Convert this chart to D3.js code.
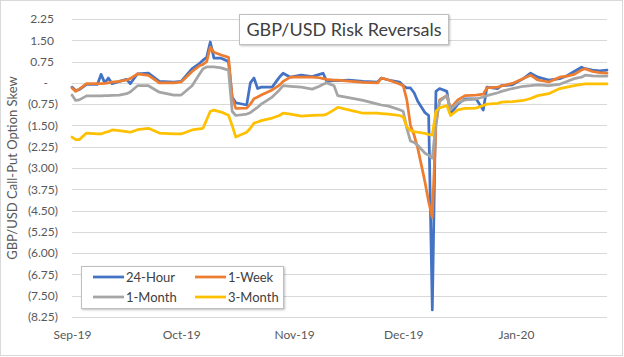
<!DOCTYPE html>
<html><head><meta charset="utf-8">
<script src="https://cdn.jsdelivr.net/npm/d3@7/dist/d3.min.js"></script>
<style>
html,body{margin:0;padding:0;background:#fff;}
svg{display:block;font-family:Lato,"Open Sans",sans-serif;}
</style></head>
<body><svg id="c" width="624" height="357"></svg>
<script>
const dates = ["2019-09-01","2019-09-02","2019-09-03","2019-09-05","2019-09-08","2019-09-09","2019-09-10","2019-09-11","2019-09-12","2019-09-14","2019-09-16","2019-09-17","2019-09-19","2019-09-22","2019-09-25","2019-09-29","2019-10-01","2019-10-04","2019-10-06","2019-10-07","2019-10-08","2019-10-09","2019-10-10","2019-10-12","2019-10-14","2019-10-15","2019-10-16","2019-10-19","2019-10-20","2019-10-21","2019-10-22","2019-10-23","2019-10-26","2019-10-28","2019-10-29","2019-10-31","2019-11-03","2019-11-06","2019-11-08","2019-11-09","2019-11-10","2019-11-12","2019-11-13","2019-11-16","2019-11-20","2019-11-24","2019-11-25","2019-11-27","2019-11-30","2019-12-01","2019-12-02","2019-12-03","2019-12-04","2019-12-05","2019-12-07","2019-12-08","2019-12-09","2019-12-10","2019-12-11","2019-12-13","2019-12-14","2019-12-16","2019-12-18","2019-12-21","2019-12-23","2019-12-24","2019-12-27","2019-12-28","2019-12-31","2020-01-03","2020-01-05","2020-01-07","2020-01-10","2020-01-13","2020-01-15","2020-01-17","2020-01-19","2020-01-20","2020-01-22","2020-01-24","2020-01-26"];

const hour24 = [-0.15,-0.27,-0.24,-0.05,-0.05,0.30,0.0,0.17,-0.03,0.05,0.12,-0.03,0.32,0.34,0.05,0.03,0.05,0.5,0.68,0.8,0.9,1.44,0.87,0.87,0.75,-0.5,-0.7,-0.78,0.0,0.17,-0.2,-0.15,-0.15,0.2,0.34,0.2,0.27,0.22,0.3,0.34,0.05,0.08,0.08,0.1,0.05,0.03,0.17,0.1,0.03,-0.1,-0.18,-0.18,-0.35,-0.65,-1.05,-1.15,-8.0,-0.3,-0.2,-0.3,-1.1,-0.75,-0.56,-0.56,-0.96,-0.15,-0.2,-0.1,-0.07,0.15,0.34,0.2,0.1,0.15,0.25,0.4,0.55,0.5,0.45,0.42,0.45];

const week1 = [-0.18,-0.3,-0.22,-0.03,-0.03,-0.03,-0.02,0.0,0.03,0.05,0.1,0.15,0.32,0.26,0.0,0.0,0.03,0.4,0.6,0.65,0.75,1.26,1.08,0.98,0.9,-0.5,-0.9,-0.89,-0.75,-0.56,-0.5,-0.43,-0.25,-0.08,0.05,0.2,0.2,0.2,0.18,0.15,0.12,0.1,0.1,0.06,0.02,0.0,0.17,0.1,-0.04,-0.1,-0.6,-1.5,-1.84,-2.3,-3.5,-4.2,-4.74,-1.5,-0.6,-0.45,-0.9,-0.6,-0.45,-0.43,-0.4,-0.18,-0.15,-0.11,-0.02,0.15,0.27,0.1,0.03,0.2,0.24,0.3,0.45,0.5,0.4,0.36,0.34];

const month1 = [-0.43,-0.62,-0.6,-0.46,-0.46,-0.46,-0.45,-0.45,-0.44,-0.43,-0.38,-0.32,-0.1,-0.1,-0.33,-0.43,-0.43,-0.1,0.3,0.5,0.56,0.56,0.56,0.53,0.45,-1.0,-1.15,-1.1,-1.05,-0.95,-0.86,-0.75,-0.5,-0.25,-0.1,-0.12,-0.15,-0.22,-0.12,-0.05,0.0,-0.1,-0.45,-0.52,-0.62,-0.75,-0.78,-0.82,-0.95,-1.0,-1.6,-2.05,-2.1,-2.2,-2.48,-2.55,-2.65,-1.4,-0.65,-0.45,-0.95,-0.7,-0.6,-0.57,-0.5,-0.45,-0.35,-0.3,-0.2,-0.12,-0.1,-0.07,-0.1,-0.05,0.05,0.15,0.2,0.27,0.25,0.24,0.24];

const month3 = [-1.91,-2.0,-2.0,-1.77,-1.8,-1.8,-1.75,-1.72,-1.66,-1.68,-1.72,-1.74,-1.65,-1.6,-1.77,-1.8,-1.8,-1.66,-1.62,-1.6,-1.3,-1.0,-0.96,-1.03,-1.14,-1.5,-1.91,-1.74,-1.6,-1.42,-1.38,-1.33,-1.24,-1.15,-1.07,-1.1,-1.17,-1.15,-1.14,-1.14,-1.1,-0.95,-0.86,-0.95,-1.07,-1.07,-1.08,-1.1,-1.15,-1.2,-1.55,-1.68,-1.72,-1.74,-1.78,-1.82,-1.84,-1.0,-0.88,-0.8,-1.15,-0.95,-0.9,-0.89,-0.8,-0.75,-0.72,-0.68,-0.66,-0.62,-0.55,-0.45,-0.38,-0.2,-0.15,-0.1,-0.05,-0.04,-0.04,-0.04,-0.04];

const seriesNames = ["24-Hour","1-Week","1-Month","3-Month"];
const seriesColors = ["#4472C4","#ED7D31","#A5A5A5","#FFC000"];
const yTicks = [2.25,1.5,0.75,0,-0.75,-1.5,-2.25,-3,-3.75,-4.5,-5.25,-6,-6.75,-7.5,-8.25];
const xTickDates = ["2019-09-01","2019-10-01","2019-11-01","2019-12-01","2020-01-01"];
const xTickLabels = ["Sep-19","Oct-19","Nov-19","Dec-19","Jan-20"];
const xDomain = ["2019-09-01","2020-01-26"];
const titleText = "GBP/USD Risk Reversals";
const yTitle = "GBP/USD Call-Put Option Skew";

const parse = d3.timeParse("%Y-%m-%d");
const svg = d3.select("#c");
const W = 624, H = 357;
const L = 72, R = 607, T = 19, B = 317;

svg.append("rect").attr("x",0.5).attr("y",0.5).attr("width",W-2).attr("height",H-2)
  .attr("fill","#fff").attr("stroke","#d9d9d9");

const x = d3.scaleTime().domain(xDomain.map(parse)).range([L,R]);
const y = d3.scaleLinear().domain([-8.25,2.25]).range([B,T]);

// gridlines
svg.append("g").selectAll("line").data(yTicks).join("line")
  .attr("x1",L).attr("x2",R)
  .attr("y1",d=>Math.round(y(d))+0.5).attr("y2",d=>Math.round(y(d))+0.5)
  .attr("stroke","#d9d9d9").attr("stroke-width",1);

// y axis labels
const fmt = v => v===0 ? "-" : (v<0 ? "("+Math.abs(v).toFixed(2)+")" : v.toFixed(2));
const yAxis = d3.axisLeft(y).tickValues(yTicks).tickFormat(fmt).tickSize(0).tickPadding(0);
const ya = svg.append("g").attr("transform",`translate(${L-14},0)`).call(yAxis);
ya.select(".domain").remove();
ya.selectAll("text").attr("fill","#595959").style("font-size","12px").style("font-family","Lato")
  .attr("dx",d=> d>0 ? -4 : (d===0 ? -10 : 0));

// x axis labels
const xAxis = d3.axisBottom(x).tickValues(xTickDates.map(parse))
  .tickFormat((d,i)=>xTickLabels[i]).tickSize(0).tickPadding(0);
const xa = svg.append("g").attr("transform",`translate(0,${B+13})`).call(xAxis);
xa.select(".domain").remove();
xa.selectAll("text").attr("fill","#595959").style("font-size","12px").style("font-family","Lato");

// y title
svg.append("text").attr("transform",`translate(17,${(T+B)/2}) rotate(-90)`)
  .attr("text-anchor","middle").attr("fill","#595959").style("font-size","13px")
  .text(yTitle);

// lines
const allSeries = [hour24, week1, month1, month3];
const line = d3.line().x(d=>x(d.date)).y(d=>y(d.v));
allSeries.forEach((vals,i)=>{
  const pts = dates.map((d,j)=>({date:parse(d), v:vals[j]})).filter(p=>p.v!==undefined);
  svg.append("path").datum(pts).attr("d",line).attr("fill","none")
    .attr("stroke",seriesColors[i]).attr("stroke-width",2.75)
    .attr("stroke-linejoin","round").attr("stroke-linecap","round");
});

// title box
const defs = svg.append("defs");
const f = defs.append("filter").attr("id","sh").attr("x","-10%").attr("y","-20%").attr("width","130%").attr("height","160%");
f.append("feDropShadow").attr("dx",1).attr("dy",1).attr("stdDeviation",1.2).attr("flood-color","#000").attr("flood-opacity",0.25);

svg.append("rect").attr("x",239.5).attr("y",14.5).attr("width",209).attr("height",30)
  .attr("fill","#fff").attr("stroke","#bfbfbf").attr("filter","url(#sh)");
svg.append("text").attr("x",344).attr("y",36).attr("text-anchor","middle")
  .attr("fill","#404040").style("font-size","18px").text(titleText);

// legend
svg.append("rect").attr("x",81.5).attr("y",266.5).attr("width",202).attr("height",42)
  .attr("fill","#fff").attr("stroke","#bfbfbf").attr("filter","url(#sh)");
const legPos = [[93,277],[195,277],[93,297],[195,297]];
seriesNames.forEach((n,i)=>{
  const [lx,ly] = legPos[i];
  svg.append("line").attr("x1",lx).attr("x2",lx+31).attr("y1",ly).attr("y2",ly)
    .attr("stroke",seriesColors[i]).attr("stroke-width",2.75);
  svg.append("text").attr("x",lx+33).attr("y",ly+4.5).attr("fill","#404040")
    .style("font-size","13px").text(n);
});
</script></body></html>
